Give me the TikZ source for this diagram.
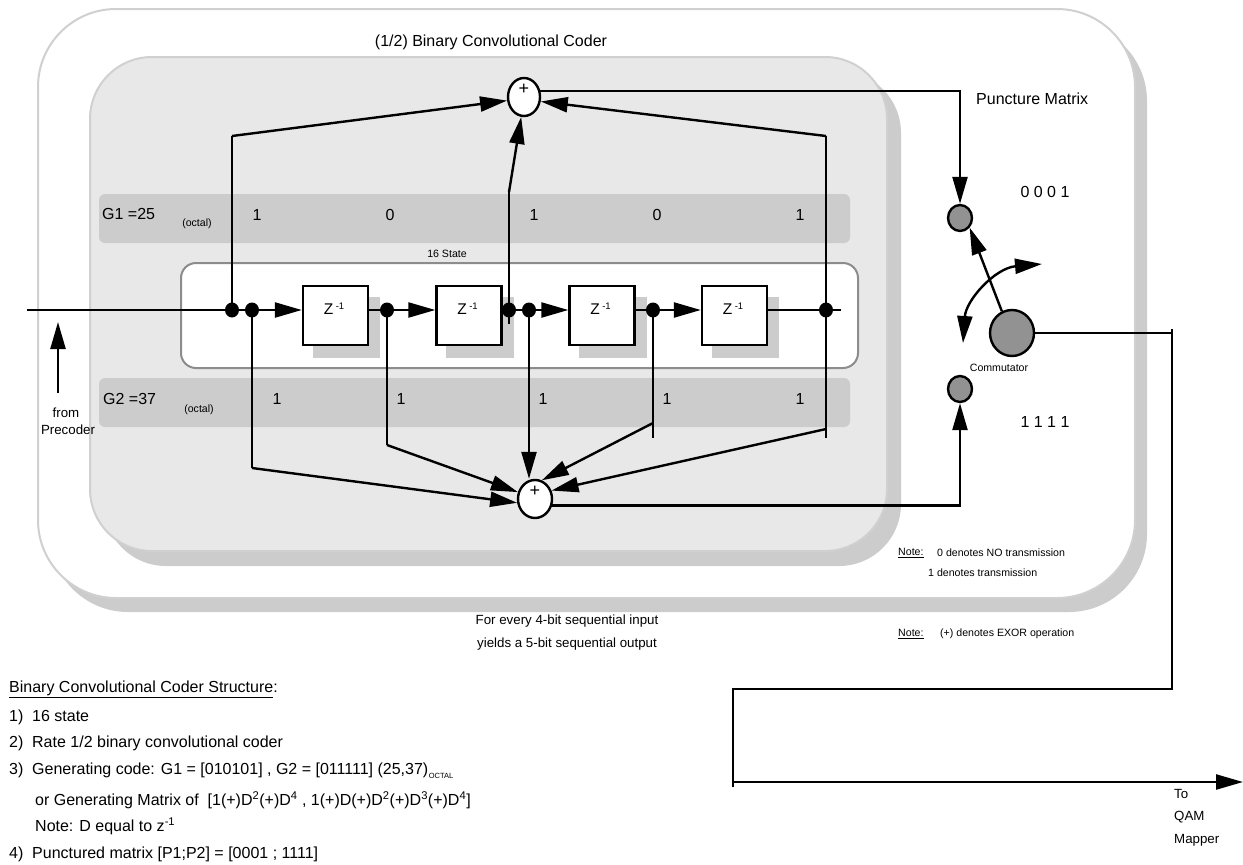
\documentclass[tikz,border=0pt]{standalone}
\usepackage{fontspec}
\setmainfont{Liberation Sans}
\usetikzlibrary{arrows.meta,shapes.geometric,calc}
\definecolor{shd}{HTML}{CCCCCC}
\definecolor{inbg}{HTML}{E8E8E8}
\definecolor{obord}{HTML}{D0D0D0}
\definecolor{rbord}{HTML}{8C8C8C}
\definecolor{cgray}{HTML}{929292}
\pgfdeclarelayer{bg}
\pgfdeclarelayer{conn}
\pgfsetlayers{bg,conn,main}
\begin{document}
\begin{tikzpicture}[x=1pt,y=-1pt,
 wire/.style={line width=2.4pt, line join=miter},
 arr/.style={wire,-{Triangle[length=27pt,width=15pt]}},
 zbox/.style={draw,fill=white,line width=2.4pt,minimum width=65pt,minimum height=59pt,inner sep=0pt},
 dotn/.style={ellipse,fill=black,minimum width=14pt,minimum height=15pt,inner sep=0pt},
 adder/.style={ellipse,draw,fill=white,line width=2.4pt,inner sep=0pt},
 pcirc/.style={ellipse,draw,fill=cgray,line width=2.4pt,minimum width=24pt,minimum height=26pt,inner sep=0pt},
 txtbig/.style={font=\fontsize{16}{19}\selectfont, inner sep=0pt},
 txtmid/.style={font=\fontsize{13.3}{16}\selectfont, inner sep=0pt},
 txtsmall/.style={font=\fontsize{10.6}{12}\selectfont, inner sep=0pt},
 ztxt/.style={font=\fontsize{15.5}{17}\selectfont, inner sep=0pt},
 plustxt/.style={font=\fontsize{18}{18}\selectfont, inner sep=0pt},
]
\useasboundingbox (0,0) rectangle (1243,865);
\begin{pgfonlayer}{bg}
\fill[white] (0,0) rectangle (1243,865);
\fill[shd, rounded corners=78pt] (50,23) rectangle (1147,612);
\filldraw[fill=white, draw=obord, line width=2pt, rounded corners=78pt] (38,9) rectangle (1135,598);
\fill[shd, rounded corners=62pt] (104,71) rectangle (901,566);
\filldraw[fill=inbg, draw=obord, line width=2pt, rounded corners=62pt] (90,57) rectangle (887,551);
\fill[shd, rounded corners=6pt] (99,194) rectangle (850,243);
\fill[shd, rounded corners=6pt] (99,378) rectangle (850,427);
\filldraw[fill=white, draw=rbord, line width=2pt, rounded corners=15pt] (181,263) rectangle (858,368);
\end{pgfonlayer}

% delay boxes
\node[zbox] (z1) at (335.5,315.5) {};
\node[zbox] (z2) at (469,315.5) {};
\node[zbox] (z3) at (602,315.5) {};
\node[zbox] (z4) at (734.5,315.5) {};
\node[ztxt] (z1t) at (334,309) {Z\,\raisebox{5pt}{\fontsize{9.5}{9.5}\selectfont -1}};
\node[ztxt] (z2t) at (467.5,309) {Z\,\raisebox{5pt}{\fontsize{9.5}{9.5}\selectfont -1}};
\node[ztxt] (z3t) at (600.5,309) {Z\,\raisebox{5pt}{\fontsize{9.5}{9.5}\selectfont -1}};
\node[ztxt] (z4t) at (733,309) {Z\,\raisebox{5pt}{\fontsize{9.5}{9.5}\selectfont -1}};
\begin{pgfonlayer}{bg}
\foreach \b in {z1,z2,z3,z4}{
  \fill[shd] ($(\b.north west)+(11,12)$) rectangle ($(\b.south east)+(11,12)$);
}
\end{pgfonlayer}

% junction dots
\node[dotn] (d1) at (232,310) {};
\node[dotn] (d2) at (252,310) {};
\node[dotn] (d3) at (387,310) {};
\node[dotn] (d4) at (509,310) {};
\node[dotn] (d5) at (529,310) {};
\node[dotn] (d6) at (653,310) {};
\node[dotn] (d7) at (826,310) {};

% adders
\node[adder, minimum width=32pt, minimum height=38pt] (a1) at (524,97) {};
\node[adder, minimum width=34pt, minimum height=38pt] (a2) at (535,499) {};
\node[plustxt] (a1p) at (524,89) {+};
\node[plustxt] (a2p) at (535,491) {+};

% puncture switch
\node[pcirc] (p1) at (960,218) {};
\node[pcirc] (p2) at (960,389) {};
\node[pcirc, minimum width=44pt, minimum height=46pt] (c) at (1012,333) {};

% coordinates
\coordinate (in0) at (27,310);
\coordinate (g1a) at (232,136);
\coordinate (g1b) at (509,192);
\coordinate (g1bt) at (509,324);
\coordinate (g1c) at (826,136);
\coordinate (d7e) at (841,310);
\coordinate (d7t) at (826,438);
\coordinate (b1) at (252,468);
\coordinate (b2) at (387,445);
\coordinate (b4) at (653,423);
\coordinate (b4t) at (653,438);
\coordinate (b5) at (826,429);
\coordinate (fp0) at (58,393);
\coordinate (fp1) at (58,322);
\coordinate (cs) at (963,343);
\coordinate (ce) at (1042,264);
\coordinate (o1) at (1172,333);
\coordinate (o1t) at (1172,329);
\coordinate (o2) at (1172,689);
\coordinate (o3) at (733,689);
\coordinate (o4) at (733,782);
\coordinate (o4t) at (733,787);
\coordinate (qout) at (1243,782);

\begin{pgfonlayer}{conn}
% shift register
\draw[wire] (in0) -- (d1.center) -- (d2.center);
\draw[arr] (d2.center) -- (z1.west |- d2.center);
\draw[wire] (z1.east |- d3.center) -- (d3.center);
\draw[arr] (d3.center) -- (z2.west |- d3.center);
\draw[wire] (z2.east |- d4.center) -- (d5.center);
\draw[arr] (d5.center) -- (z3.west |- d5.center);
\draw[wire] (z3.east |- d6.center) -- (d6.center);
\draw[arr] (d6.center) -- (z4.west |- d6.center);
\draw[wire] (z4.east |- d7.center) -- (d7e);
% G1 taps
\draw[wire] (d1.center) -- (g1a);
\draw[arr] (g1a) -- (a1.192);
\draw[wire] (g1bt) -- (g1b);
\draw[arr] (g1b) -- (a1.262);
\draw[wire] (d7t) -- (g1c);
\draw[arr] (g1c) -- (a1.-15);
\draw[arr] (a1.20) -- (a1.20 -| p1) -- (p1);
% G2 taps
\draw[wire] (d2.center) -- (b1);
\draw[arr] (b1) -- (a2.192);
\draw[wire] (d3.center) -- (b2);
\draw[arr] (b2) -- (a2.158);
\draw[arr] (d5.center) -- (d5.center |- a2.north);
\draw[wire] (d6.center) -- (b4t);
\draw[arr] (b4) -- (a2.70);
\draw[arr] (b5) -- (a2.27);
\draw[arr] (a2.340) -- (a2.340 -| p2) -- (p2);
% commutator
\draw[arr] (c.115) -- (p1.-45);
\draw[wire, {Triangle[length=27pt,width=15pt]}-{Triangle[length=27pt,width=15pt]}] (cs) .. controls (966,300) and (995,268) .. (ce);
\draw[arr] (c.east) -- (o1) -- (o2) -- (o3) -- (o4) -- (qout);
\draw[wire] (o1) -- (o1t);
\draw[wire] (o4) -- (o4t);
\draw[arr] (fp0) -- (fp1);
\end{pgfonlayer}

% texts
\node[txtbig] (title) at (491,42) {(1/2) Binary Convolutional Coder};
\node[txtbig, anchor=base west] (pm) at (976,104) {Puncture Matrix};
\node[txtbig] (p1v) at (1045,192) {0 0 0 1};
\node[txtbig] (p2v) at (1045,422) {1 1 1 1};
\node[txtsmall] (cm) at (999,368) {Commutator};
\node[txtsmall] (st) at (447,254) {16 State};
\node[txtbig, anchor=base west] (g1l) at (102,219) {G1 =25};
\node[txtsmall] (g1o) at (197,224) {(octal)};
\node[txtbig] (g1v1) at (257,215) {1};
\node[txtbig] (g1v2) at (390,215) {0};
\node[txtbig] (g1v3) at (534,215) {1};
\node[txtbig] (g1v4) at (657,215) {0};
\node[txtbig] (g1v5) at (800,215) {1};
\node[txtbig, anchor=base west] (g2l) at (103,404) {G2 =37};
\node[txtsmall] (g2o) at (199,410) {(octal)};
\node[txtbig] (g2v1) at (277,399) {1};
\node[txtbig] (g2v2) at (401,399) {1};
\node[txtbig] (g2v3) at (543,399) {1};
\node[txtbig] (g2v4) at (667,399) {1};
\node[txtbig] (g2v5) at (800,399) {1};
\node[txtmid] (fr1) at (66,413) {from};
\node[txtmid] (fr2) at (68,430) {Precoder};
\node[txtmid] (fe1) at (567,621) {For every 4-bit sequential input};
\node[txtmid] (fe2) at (567,644) {yields a 5-bit sequential output};
\node[txtsmall, anchor=west] (n1) at (898,553) {\underline{Note:}};
\node[txtsmall, anchor=west] (n1b) at (937,553) {0 denotes NO transmission};
\node[txtsmall, anchor=west] (n1c) at (928,573) {1 denotes transmission};
\node[txtsmall, anchor=west] (n2) at (898,634) {\underline{Note:}};
\node[txtsmall, anchor=west] (n2b) at (940,634) {(+) denotes EXOR operation};
\node[txtmid, anchor=west] (q1) at (1174,794) {To};
\node[txtmid, anchor=west] (q2) at (1174,817) {QAM};
\node[txtmid, anchor=west] (q3) at (1174,840) {Mapper};
% structure list
\node[txtbig, anchor=west] (l0) at (9,689) {\underline{Binary Convolutional Coder Structure}:};
\node[txtbig, anchor=west] (l1) at (9,717) {\makebox[23pt][l]{1)}16 state};
\node[txtbig, anchor=west] (l2) at (9,743) {\makebox[23pt][l]{2)}Rate 1/2 binary convolutional coder};
\node[txtbig, anchor=west] (l3) at (9,771) {\makebox[23pt][l]{3)}Generating code: G1 = [010101] , G2 = [011111] (25,37)\kern0.5pt\raisebox{-4pt}{\fontsize{7.5}{8}\selectfont OCTAL}};
\node[txtbig, anchor=west] (l4) at (35,800) {or Generating Matrix of\ \ [1(+)D\textsuperscript{2}(+)D\textsuperscript{4} , 1(+)D(+)D\textsuperscript{2}(+)D\textsuperscript{3}(+)D\textsuperscript{4}]};
\node[txtbig, anchor=west] (l5) at (35,826) {Note: D equal to z\textsuperscript{-1}};
\node[txtbig, anchor=west] (l6) at (9,854) {\makebox[23pt][l]{4)}Punctured matrix [P1;P2] = [0001 ; 1111]};
\end{tikzpicture}
\end{document}
